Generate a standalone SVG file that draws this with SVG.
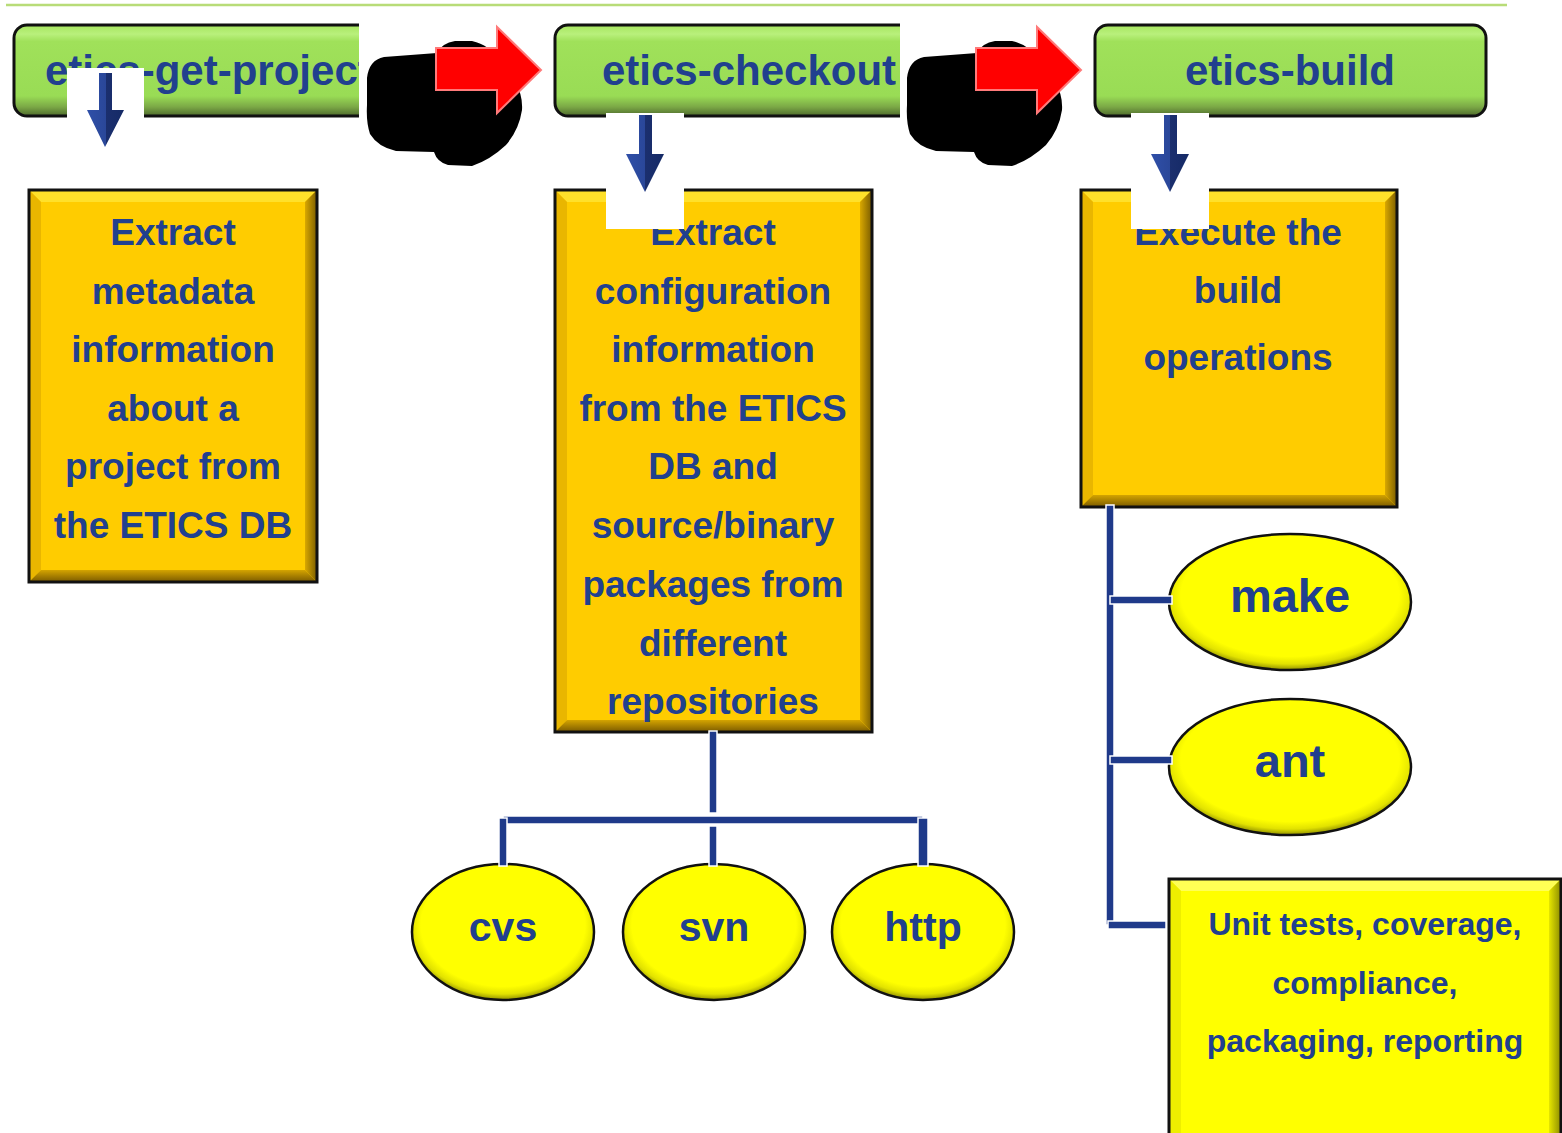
<svg xmlns="http://www.w3.org/2000/svg" width="1562" height="1133" viewBox="0 0 1562 1133">
<defs>
<linearGradient id="gGreen" x1="0" y1="0" x2="0" y2="1">
<stop offset="0" stop-color="#a6e65e"/>
<stop offset="0.1" stop-color="#b9f07c"/>
<stop offset="0.18" stop-color="#a0e15a"/>
<stop offset="0.78" stop-color="#99dc55"/>
<stop offset="0.9" stop-color="#7ba846"/>
<stop offset="1" stop-color="#4e6a2c"/>
</linearGradient>
<linearGradient id="gRight" x1="0" y1="0" x2="1" y2="0">
<stop offset="0" stop-color="#d9a800"/>
<stop offset="1" stop-color="#7a5c00"/>
</linearGradient>
<linearGradient id="gBottom" x1="0" y1="0" x2="0" y2="1">
<stop offset="0" stop-color="#d4a400"/>
<stop offset="1" stop-color="#7a5a00"/>
</linearGradient>
<linearGradient id="yRight" x1="0" y1="0" x2="1" y2="0">
<stop offset="0" stop-color="#e6e600"/>
<stop offset="1" stop-color="#8c8c00"/>
</linearGradient>
<linearGradient id="yBottom" x1="0" y1="0" x2="0" y2="1">
<stop offset="0" stop-color="#dede00"/>
<stop offset="1" stop-color="#8a8a00"/>
</linearGradient>
<radialGradient id="gEll" cx="0.5" cy="0.45" r="0.55">
<stop offset="0" stop-color="#ffff00"/>
<stop offset="0.82" stop-color="#ffff00"/>
<stop offset="0.92" stop-color="#e2e200"/>
<stop offset="1" stop-color="#8f8f00"/>
</radialGradient>
<linearGradient id="gBlue" x1="0" y1="0" x2="1" y2="0">
<stop offset="0" stop-color="#2f4fa8"/>
<stop offset="0.5" stop-color="#2a4799"/>
<stop offset="0.5" stop-color="#1b2f6e"/>
<stop offset="1" stop-color="#152a66"/>
</linearGradient>
</defs>
<style>
.t{font-family:"Liberation Sans",Arial,sans-serif;font-weight:bold;fill:#21408e;text-anchor:middle}
.hd{font-size:42px}
.ob{font-size:37px}
.el{font-size:41px}
.el2{font-size:47px}
.sm{font-size:32px}
.gbox{fill:url(#gGreen);stroke:#111;stroke-width:3}
.obase{fill:#ffcc00}
.otop{fill:#ffe02a}
.oleft{fill:#e9b600}
.oright{fill:url(#gRight)}
.obot{fill:url(#gBottom)}
.ybase{fill:#ffff00}
.ytop{fill:#ffff55}
.yleft{fill:#eeee00}
.yright{fill:url(#yRight)}
.ybot{fill:url(#yBottom)}
.edge{fill:none;stroke:#111;stroke-width:3}
.ell{fill:url(#gEll);stroke:#111;stroke-width:2.5}
.mask{fill:#fff}
.blob{fill:#000}
.red{fill:#ff0000;stroke:#ff7a7a;stroke-width:2;stroke-linejoin:miter}
.barr{fill:url(#gBlue)}
.con{fill:#1f3a8a;stroke:#fff;stroke-width:1.5}
</style>

<line x1="6" y1="5" x2="1507" y2="5" stroke="#b8dc78" stroke-width="2.5"/>

<g id="node-get-project">
<rect class="gbox" x="14" y="25" width="400" height="91" rx="13"/>
<text class="t hd" x="45" y="85" style="text-anchor:start">etics-get-project</text>
</g>
<g id="node-checkout">
<rect class="gbox" x="555" y="25" width="400" height="91" rx="13"/>
<text class="t hd" x="602" y="85" style="text-anchor:start">etics-checkout</text>
</g>
<g id="node-build">
<rect class="gbox" x="1095" y="25" width="391" height="91" rx="13"/>
<text class="t hd" x="1290" y="85">etics-build</text>
</g>

<rect class="mask" x="359" y="18" width="75" height="105"/>
<rect class="mask" x="900" y="18" width="74" height="105"/>

<g id="blob-1">
<path class="blob" d="M367,78 Q369,60 384,57 L437,53 Q442,43 455,41 L472,41 Q490,45 498,60 L515,82 Q523,95 522,110 Q519,130 506,145 Q490,160 472,166 L448,165 Q437,162 434,152 L396,151 Q378,147 370,134 Q366,122 367,105 Z"/>
</g>
<g id="blob-2">
<path class="blob" transform="translate(540,0)" d="M367,78 Q369,60 384,57 L437,53 Q442,43 455,41 L472,41 Q490,45 498,60 L515,82 Q523,95 522,110 Q519,130 506,145 Q490,160 472,166 L448,165 Q437,162 434,152 L396,151 Q378,147 370,134 Q366,122 367,105 Z"/>
</g>
<g id="red-arrow-1">
<polygon class="red" points="436,48 497,48 497,27 541,70 497,113 497,90 436,90"/>
</g>
<g id="red-arrow-2">
<polygon class="red" points="976,48 1037,48 1037,27 1081,70 1037,113 1037,90 976,90"/>
</g>

<g id="box-extract-metadata">
<rect class="obase" x="29" y="190" width="288" height="392"/>
<polygon class="otop" points="29,190 317,190 305,202 41,202"/>
<polygon class="oleft" points="29,190 41,202 41,570 29,582"/>
<polygon class="oright" points="317,190 317,582 305,570 305,202"/>
<polygon class="obot" points="29,582 41,570 305,570 317,582"/>
<rect class="edge" x="29" y="190" width="288" height="392"/>
<text class="t ob" x="173" y="245">Extract</text>
<text class="t ob" x="173" y="304">metadata</text>
<text class="t ob" x="173" y="362">information</text>
<text class="t ob" x="173" y="421">about a</text>
<text class="t ob" x="173" y="479">project from</text>
<text class="t ob" x="173" y="538">the ETICS DB</text>
</g>

<g id="box-extract-config">
<rect class="obase" x="555" y="190" width="317" height="542"/>
<polygon class="otop" points="555,190 872,190 860,202 567,202"/>
<polygon class="oleft" points="555,190 567,202 567,720 555,732"/>
<polygon class="oright" points="872,190 872,732 860,720 860,202"/>
<polygon class="obot" points="555,732 567,720 860,720 872,732"/>
<rect class="edge" x="555" y="190" width="317" height="542"/>
<text class="t ob" x="713" y="245">Extract</text>
<text class="t ob" x="713" y="304">configuration</text>
<text class="t ob" x="713" y="362">information</text>
<text class="t ob" x="713" y="421">from the ETICS</text>
<text class="t ob" x="713" y="479">DB and</text>
<text class="t ob" x="713" y="538">source/binary</text>
<text class="t ob" x="713" y="597">packages from</text>
<text class="t ob" x="713" y="656">different</text>
<text class="t ob" x="713" y="714">repositories</text>
</g>

<g id="box-execute-build">
<rect class="obase" x="1081" y="190" width="316" height="317"/>
<polygon class="otop" points="1081,190 1397,190 1385,202 1093,202"/>
<polygon class="oleft" points="1081,190 1093,202 1093,495 1081,507"/>
<polygon class="oright" points="1397,190 1397,507 1385,495 1385,202"/>
<polygon class="obot" points="1081,507 1093,495 1385,495 1397,507"/>
<rect class="edge" x="1081" y="190" width="316" height="317"/>
<text class="t ob" x="1238" y="245">Execute the</text>
<text class="t ob" x="1238" y="303">build</text>
<text class="t ob" x="1238" y="370">operations</text>
</g>

<g id="mask-arrow-1">
<rect class="mask" x="67" y="68" width="77" height="50"/>
<polygon class="barr" points="99,73 112,73 112,110 124,110 105,147 87,110 99,110"/>
</g>
<g id="mask-arrow-2">
<rect class="mask" x="606" y="113" width="78" height="116"/>
<polygon class="barr" points="639,115 652,115 652,154 664,154 645,192 626,154 639,154"/>
</g>
<g id="mask-arrow-3">
<rect class="mask" x="1131" y="113" width="78" height="116"/>
<polygon class="barr" points="1164,115 1177,115 1177,154 1189,154 1170,192 1151,154 1164,154"/>
</g>

<g id="node-cvs">
<ellipse class="ell" cx="503" cy="932" rx="91" ry="68"/>
<text class="t el" x="503" y="941">cvs</text>
</g>
<g id="node-svn">
<ellipse class="ell" cx="714" cy="932" rx="91" ry="68"/>
<text class="t el" x="714" y="941">svn</text>
</g>
<g id="node-http">
<ellipse class="ell" cx="923" cy="932" rx="91" ry="68"/>
<text class="t el" x="923" y="941">http</text>
</g>
<g id="node-make">
<ellipse class="ell" cx="1290" cy="602" rx="121" ry="68"/>
<text class="t el2" x="1290" y="612">make</text>
</g>
<g id="node-ant">
<ellipse class="ell" cx="1290" cy="767" rx="121" ry="68"/>
<text class="t el2" x="1290" y="777">ant</text>
</g>

<g id="box-unit-tests">
<rect class="ybase" x="1169" y="879" width="392" height="262"/>
<polygon class="ytop" points="1169,879 1561,879 1549,891 1181,891"/>
<polygon class="yleft" points="1169,879 1181,891 1181,1141 1169,1141"/>
<polygon class="yright" points="1561,879 1561,1141 1549,1141 1549,891"/>
<rect class="edge" x="1169" y="879" width="392" height="262"/>
<text class="t sm" x="1365" y="935">Unit tests, coverage,</text>
<text class="t sm" x="1365" y="994">compliance,</text>
<text class="t sm" x="1365" y="1052">packaging, reporting</text>
</g>

<g id="connectors">
<rect class="con" x="709" y="731" width="8" height="82"/>
<rect class="con" x="503" y="816" width="420" height="8"/>
<rect class="con" x="499" y="818" width="8" height="48"/>
<rect class="con" x="709" y="826" width="8" height="40"/>
<rect class="con" x="918" y="818" width="10" height="48"/>
<rect class="con" x="1106" y="505" width="8" height="420"/>
<rect class="con" x="1110" y="596" width="62" height="8"/>
<rect class="con" x="1110" y="756" width="62" height="8"/>
<rect class="con" x="1108" y="921" width="58" height="8"/>
</g>
</svg>
